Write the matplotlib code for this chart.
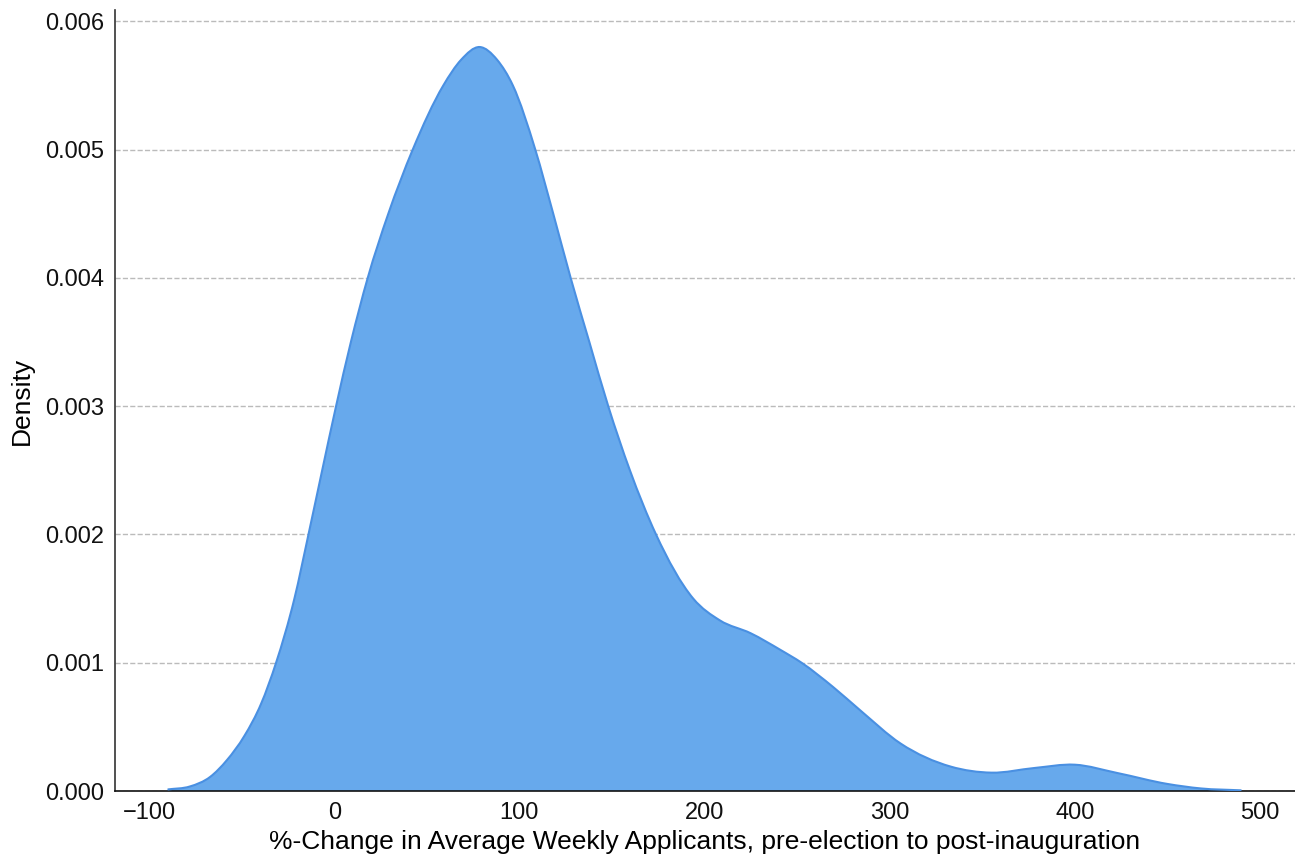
import matplotlib
matplotlib.use("Agg")
import matplotlib.pyplot as plt
from matplotlib.path import Path
from matplotlib.patches import PathPatch

# Density curve (x = %-change, y = density)
pct_change = [-90, -78, -67, -58, -48.5, -39.5, -31.4, -21.5, -13.9, -6.5, 1.0, 9.0, 18.1,
              29.2, 42.4, 58.9, 68.5, 78.5, 88.0, 96.5, 108.6, 118.3, 127.7, 137.8, 148.0,
              159.7, 173.8, 193.9, 208.3, 224.9, 241, 252.4, 269.5, 284, 305.9, 333, 355,
              378, 400, 423, 450, 468, 490]
density = [0.000012, 0.000035, 0.00011, 0.00024, 0.00043, 0.00068, 0.001, 0.0015, 0.002,
           0.0025, 0.003, 0.0035, 0.004, 0.0045, 0.005, 0.0055, 0.0057, 0.0058, 0.0057,
           0.0055, 0.005, 0.0045, 0.004, 0.0035, 0.003, 0.0025, 0.002, 0.0015, 0.00133,
           0.00123, 0.0011, 0.001, 0.00081, 0.00063, 0.00037, 0.00019, 0.000143,
           0.000179, 0.000205, 0.00014, 0.000055, 0.00002, 0.000005]

x_ticks = [-100, 0, 100, 200, 300, 400, 500]
y_ticks = [0.000, 0.001, 0.002, 0.003, 0.004, 0.005, 0.006]


def smooth_path_through(xs, ys):
    """Cubic Hermite (in x) Bezier path passing through every read point."""
    n = len(xs)
    h = [xs[i + 1] - xs[i] for i in range(n - 1)]
    d = [(ys[i + 1] - ys[i]) / h[i] for i in range(n - 1)]
    m = [d[0]]
    for i in range(1, n - 1):
        m.append((d[i - 1] * h[i] + d[i] * h[i - 1]) / (h[i - 1] + h[i]))
    m.append(d[-1])
    verts = [(xs[0], ys[0])]
    codes = [Path.MOVETO]
    for i in range(n - 1):
        c1 = (xs[i] + h[i] / 3.0, max(0.0, ys[i] + m[i] * h[i] / 3.0))
        c2 = (xs[i + 1] - h[i] / 3.0, max(0.0, ys[i + 1] - m[i + 1] * h[i] / 3.0))
        verts += [c1, c2, (xs[i + 1], ys[i + 1])]
        codes += [Path.CURVE4] * 3
    return verts, codes


plt.rcParams['font.family'] = ['Liberation Sans', 'DejaVu Sans']

fig = plt.figure(figsize=(12.95, 8.61), dpi=100)
ax = fig.add_axes([0.0888, 0.0813, 0.9112, 0.9067])

verts, codes = smooth_path_through(pct_change, density)
fill_verts = verts + [(pct_change[-1], 0.0), (pct_change[0], 0.0), verts[0]]
fill_codes = codes + [Path.LINETO, Path.LINETO, Path.CLOSEPOLY]
ax.add_patch(PathPatch(Path(fill_verts, fill_codes), facecolor='#67A9EC',
                       edgecolor='none', zorder=2))
ax.add_patch(PathPatch(Path(verts, codes), facecolor='none', edgecolor='#4A90E2',
                       linewidth=1.5, zorder=3))

ax.set_xlim(-118.4, 518.9)
ax.set_ylim(0, 0.006086)
ax.set_xticks(x_ticks)
ax.set_xticklabels(['\u2212100', '0', '100', '200', '300', '400', '500'])
ax.set_yticks(y_ticks)
ax.set_yticklabels([f"{v:.3f}" for v in y_ticks])
ax.tick_params(axis='both', length=0, labelsize=17, pad=8, colors='#111111')

ax.yaxis.grid(True, linestyle='--', color='#bbbbbb', linewidth=1.0, zorder=0)
ax.set_axisbelow(True)

for s in ['top', 'right']:
    ax.spines[s].set_visible(False)
ax.spines['left'].set_color('#333333')
ax.spines['bottom'].set_color('#111111')
ax.spines['left'].set_linewidth(1.2)
ax.spines['bottom'].set_linewidth(1.2)

ax.set_xlabel('%-Change in Average Weekly Applicants, pre-election to post-inauguration',
              fontsize=19, labelpad=4)
ax.set_ylabel('Density', fontsize=19, labelpad=8)

fig.savefig('out.png', dpi=100)
